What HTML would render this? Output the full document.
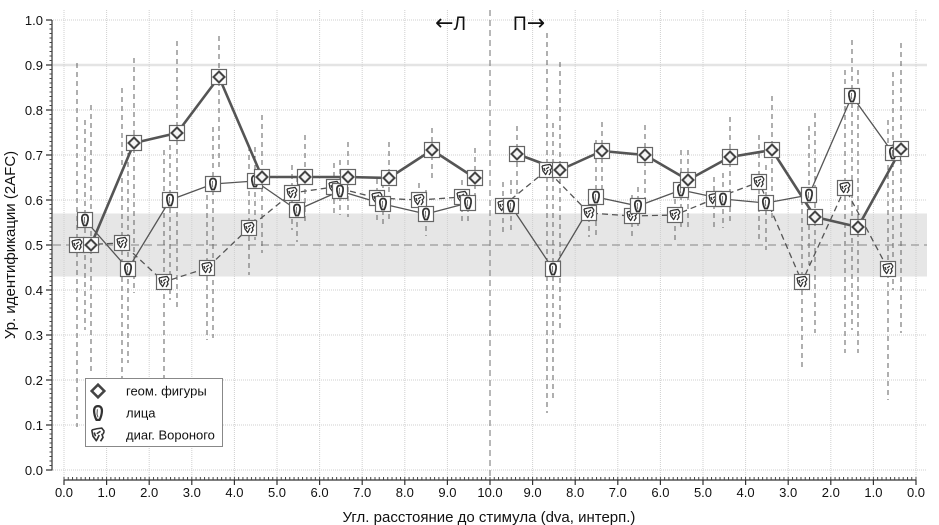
<!DOCTYPE html>
<html><head><meta charset="utf-8"><style>
html,body{margin:0;padding:0;background:#fff;}
svg{display:block;font-family:"Liberation Sans","DejaVu Sans",sans-serif;}
</style></head><body>
<svg width="939" height="525" viewBox="0 0 939 525" xmlns="http://www.w3.org/2000/svg">
<defs>
<pattern id="ytk" patternUnits="userSpaceOnUse" x="49" y="19.5" width="3" height="4.5"><rect x="0" y="0" width="3" height="1" fill="#444"/></pattern>
<pattern id="xtk" patternUnits="userSpaceOnUse" x="63.5" y="477" width="4.26" height="3"><rect x="0" y="0" width="1" height="3" fill="#444"/></pattern>
<g id="bx"><rect x="-7.5" y="-7.5" width="15" height="15" fill="#fff" stroke="#666" stroke-width="1.2"/></g>
<g id="dia"><polygon points="0,-5.5 5.5,0 0,5.5 -5.5,0" fill="#f4f4f4" stroke="#444" stroke-width="2"/></g>
<g id="fc"><path d="M0,-5.5 C2.8,-5.5 3.5,-3 3,0 C2.6,2.5 1.8,4.5 1.2,5.5 L-1.2,5.5 C-1.8,4.5 -2.6,2.5 -3,0 C-3.5,-3 -2.8,-5.5 0,-5.5 Z" fill="none" stroke="#333" stroke-width="1.8"/><path d="M-0.5,-3 L-0.8,1 L0,3.5" fill="none" stroke="#555" stroke-width="0.8"/></g>
<g id="vr"><path d="M-5,-4 L-1,-5 L3,-5.5 L5,-3 M-5,-4 L-4,1 L-1,5 M-1,-1 L2,-3 M1,0 L-1,4 M3,-1 L4,2 L2,5 M-3,-2 L-2,1 M5,-3 L4,-0.5" fill="none" stroke="#333" stroke-width="1.3"/></g>
<g id="D"><use href="#bx"/><use href="#dia"/></g>
<g id="F"><use href="#bx"/><use href="#fc"/></g>
<g id="V"><use href="#bx"/><use href="#vr"/></g>
</defs>

<!-- band -->
<rect x="53" y="213.5" width="874" height="63" fill="#e6e6e6"/>

<!-- gridlines horizontal -->
<g stroke="#cfcfcf" stroke-width="1" stroke-dasharray="1 1">
<path d="M53 20H927 M53 110H927 M53 155H927 M53 200H927 M53 290H927 M53 335H927 M53 380H927 M53 425H927 M53 470H927"/>
</g>
<path d="M53 65H927" stroke="#e4e4e4" stroke-width="2.5"/>
<!-- gridlines vertical -->
<g stroke="#cfcfcf" stroke-width="1" stroke-dasharray="1 1">
<path d="M64 10V478 M106.6 10V478 M149.2 10V478 M191.8 10V478 M234.4 10V478 M277 10V478 M319.6 10V478 M362.2 10V478 M404.8 10V478 M447.4 10V478 M532.6 10V478 M575.2 10V478 M617.8 10V478 M660.4 10V478 M703 10V478 M745.6 10V478 M788.2 10V478 M830.8 10V478 M873.4 10V478 M916 10V478"/>
</g>
<!-- 0.5 line and center line -->
<path d="M53 245H927" stroke="#999" stroke-width="1.2" stroke-dasharray="8 5"/>
<path d="M490 10V478" stroke="#888" stroke-width="1.2" stroke-dasharray="6 4"/>

<!-- error bars -->
<g stroke="#6e6e6e" stroke-width="1.1" stroke-dasharray="5 4" fill="none">
<path d="M77 63V427 M122 88V403 M164 150V407 M207 195V340 M249 146V275 M292 165V230 M334 163V213 M377 179V222 M419 183V220 M462 180V222 M503 182V233 M547 33V413 M589 190V237 M632 195V238 M675 190V240 M714 177V228 M759 135V240 M802 200V367 M845 70V353 M888 120V400"/>
<path d="M85 120V330 M128 153V363 M170 145V300 M213 127V338 M255 147V240 M297 177V242 M340 160V215 M383 174V227 M426 190V236 M468 180V223 M511 180V230 M553 123V400 M596 140V235 M638 187V226 M681 150V230 M723 173V228 M766 165V250 M809 126V265 M852 40V330 M893 72V290"/>
<path d="M91 105V373 M134 58V293 M177 41V310 M219 36V170 M262 115V253 M305 135V225 M348 142V217 M389 142V220 M432 128V182 M475 148V200 M517 126V200 M560 62V330 M602 122V205 M645 125V210 M688 150V230 M730 117V225 M772 96V220 M815 113V333 M858 70V353 M901 43V333"/>
</g>

<!-- series lines -->
<g fill="none" stroke="#555" stroke-linejoin="round">
<polyline stroke-width="1.3" stroke-dasharray="6 4" points="77,245 122,243 164,282 207,268 249,228 292,193 334,187 377,198 419,200 462,197"/>
<polyline stroke-width="1.3" stroke-dasharray="6 4" points="503,206 547,170 589,213 632,216 675,215 714,199 759,182 802,282 845,188 888,269"/>
<polyline stroke-width="1.3" points="85,220 128,269 170,200 213,184 255,181 297,210 340,191 383,204 426,214 468,203"/>
<polyline stroke-width="1.3" points="511,206 553,269 596,197 638,206 681,190 723,199 766,203 809,195 852,96 893,153"/>
<polyline stroke-width="2.6" points="91,245 134,143 177,133 219,77 262,177 305,177 348,177 389,178 432,150 475,178"/>
<polyline stroke-width="2.6" points="517,154 560,170 602,151 645,155 688,180 730,157 772,150 815,217 858,227 901,149"/>
</g>

<!-- markers: Voronoi -->
<use href="#V" x="77" y="245"/><use href="#V" x="122" y="243"/><use href="#V" x="164" y="282"/><use href="#V" x="207" y="268"/><use href="#V" x="249" y="228"/><use href="#V" x="292" y="193"/><use href="#V" x="334" y="187"/><use href="#V" x="377" y="198"/><use href="#V" x="419" y="200"/><use href="#V" x="462" y="197"/>
<use href="#V" x="503" y="206"/><use href="#V" x="547" y="170"/><use href="#V" x="589" y="213"/><use href="#V" x="632" y="216"/><use href="#V" x="675" y="215"/><use href="#V" x="714" y="199"/><use href="#V" x="759" y="182"/><use href="#V" x="802" y="282"/><use href="#V" x="845" y="188"/><use href="#V" x="888" y="269"/>
<!-- faces -->
<use href="#F" x="85" y="220"/><use href="#F" x="128" y="269"/><use href="#F" x="170" y="200"/><use href="#F" x="213" y="184"/><use href="#F" x="255" y="181"/><use href="#F" x="297" y="210"/><use href="#F" x="340" y="191"/><use href="#F" x="383" y="204"/><use href="#F" x="426" y="214"/><use href="#F" x="468" y="203"/>
<use href="#F" x="511" y="206"/><use href="#F" x="553" y="269"/><use href="#F" x="596" y="197"/><use href="#F" x="638" y="206"/><use href="#F" x="681" y="190"/><use href="#F" x="723" y="199"/><use href="#F" x="766" y="203"/><use href="#F" x="809" y="195"/><use href="#F" x="852" y="96"/><use href="#F" x="893" y="153"/>
<!-- diamonds -->
<use href="#D" x="91" y="245"/><use href="#D" x="134" y="143"/><use href="#D" x="177" y="133"/><use href="#D" x="219" y="77"/><use href="#D" x="262" y="177"/><use href="#D" x="305" y="177"/><use href="#D" x="348" y="177"/><use href="#D" x="389" y="178"/><use href="#D" x="432" y="150"/><use href="#D" x="475" y="178"/>
<use href="#D" x="517" y="154"/><use href="#D" x="560" y="170"/><use href="#D" x="602" y="151"/><use href="#D" x="645" y="155"/><use href="#D" x="688" y="180"/><use href="#D" x="730" y="157"/><use href="#D" x="772" y="150"/><use href="#D" x="815" y="217"/><use href="#D" x="858" y="227"/><use href="#D" x="901" y="149"/>

<!-- Y axis -->
<path d="M52 20V470.5" stroke="#333" stroke-width="1.2"/>
<rect x="49.5" y="19.5" width="2.5" height="451" fill="url(#ytk)"/>
<path d="M46 20H52 M46 65H52 M46 110H52 M46 155H52 M46 200H52 M46 245H52 M46 290H52 M46 335H52 M46 380H52 M46 425H52 M46 470H52" stroke="#333" stroke-width="1.2"/>
<g font-size="13" text-anchor="end" fill="#111">
<text x="43" y="25">1.0</text><text x="43" y="70">0.9</text><text x="43" y="115">0.8</text><text x="43" y="160">0.7</text><text x="43" y="205">0.6</text><text x="43" y="250">0.5</text><text x="43" y="295">0.4</text><text x="43" y="340">0.3</text><text x="43" y="385">0.2</text><text x="43" y="430">0.1</text><text x="43" y="475">0.0</text>
</g>
<text x="15" y="245" font-size="15" text-anchor="middle" transform="rotate(-90 15 245)" fill="#111">Ур. идентификации (2AFC)</text>

<!-- X axis -->
<path d="M63.5 480H916.5" stroke="#333" stroke-width="1.2"/>
<rect x="63.5" y="477" width="853" height="3" fill="url(#xtk)"/>
<path d="M64 480V485 M106.6 480V485 M149.2 480V485 M191.8 480V485 M234.4 480V485 M277 480V485 M319.6 480V485 M362.2 480V485 M404.8 480V485 M447.4 480V485 M490 480V485 M532.6 480V485 M575.2 480V485 M617.8 480V485 M660.4 480V485 M703 480V485 M745.6 480V485 M788.2 480V485 M830.8 480V485 M873.4 480V485 M916 480V485" stroke="#333" stroke-width="1.2"/>
<g font-size="13" text-anchor="middle" fill="#111">
<text x="64" y="497">0.0</text><text x="106.6" y="497">1.0</text><text x="149.2" y="497">2.0</text><text x="191.8" y="497">3.0</text><text x="234.4" y="497">4.0</text><text x="277" y="497">5.0</text><text x="319.6" y="497">6.0</text><text x="362.2" y="497">7.0</text><text x="404.8" y="497">8.0</text><text x="447.4" y="497">9.0</text><text x="490" y="497">10.0</text><text x="532.6" y="497">9.0</text><text x="575.2" y="497">8.0</text><text x="617.8" y="497">7.0</text><text x="660.4" y="497">6.0</text><text x="703" y="497">5.0</text><text x="745.6" y="497">4.0</text><text x="788.2" y="497">3.0</text><text x="830.8" y="497">2.0</text><text x="873.4" y="497">1.0</text><text x="916" y="497">0.0</text>
</g>
<text x="489" y="522" font-size="15" text-anchor="middle" fill="#111">Угл. расстояние до стимула (dva, интерп.)</text>

<!-- direction labels -->
<text x="466" y="30" font-size="19" text-anchor="end" fill="#111"><tspan font-family="DejaVu Sans" font-size="22">←</tspan>Л</text>
<text x="513" y="30" font-size="19" text-anchor="start" fill="#111">П<tspan font-family="DejaVu Sans" font-size="22">→</tspan></text>

<!-- legend -->
<rect x="85.5" y="378.5" width="137" height="68" fill="#fff" stroke="#888" stroke-width="1"/>
<g transform="translate(98 391) scale(1.15)"><polygon points="0,-5.5 5.5,0 0,5.5 -5.5,0" fill="#fff" stroke="#444" stroke-width="2.2"/></g>
<g transform="translate(98 413) scale(1.25)"><use href="#fc"/></g>
<g transform="translate(98 435) scale(1.25)"><use href="#vr"/></g>
<g font-size="13" fill="#111">
<text x="126" y="395.5">геом. фигуры</text>
<text x="126" y="417.5">лица</text>
<text x="126" y="439.5">диаг. Вороного</text>
</g>
</svg>
</body></html>
